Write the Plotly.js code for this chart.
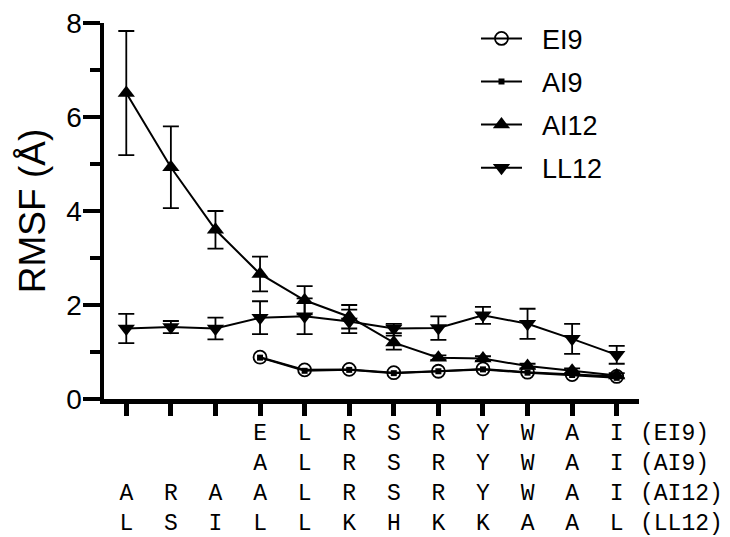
<!DOCTYPE html>
<html>
<head>
<meta charset="utf-8">
<script src="https://cdn.plot.ly/plotly-3.0.1.min.js"></script>
<style>html,body{margin:0;padding:0;background:#fff;}</style>
</head>
<body>
<div id="chart" style="width:730px;height:537px;"></div>
<script>
// Residue positions (x)
const positions = [1, 2, 3, 4, 5, 6, 7, 8, 9, 10, 11, 12];
const pos9 = [4, 5, 6, 7, 8, 9, 10, 11, 12];

// Sequence rows shown under the x axis
const seqEI9  = ['', '', '', 'E', 'L', 'R', 'S', 'R', 'Y', 'W', 'A', 'I'];
const seqAI9  = ['', '', '', 'A', 'L', 'R', 'S', 'R', 'Y', 'W', 'A', 'I'];
const seqAI12 = ['A', 'R', 'A', 'A', 'L', 'R', 'S', 'R', 'Y', 'W', 'A', 'I'];
const seqLL12 = ['L', 'S', 'I', 'L', 'L', 'K', 'H', 'K', 'K', 'A', 'A', 'L'];
const rowNames = ['(EI9)', '(AI9)', '(AI12)', '(LL12)'];

// Series names
const seriesNames = ['EI9', 'AI9', 'AI12', 'LL12'];

// RMSF values (Å)
const ei9  = [0.89, 0.62, 0.63, 0.56, 0.59, 0.64, 0.57, 0.52, 0.48];
const ai9  = [0.88, 0.60, 0.62, 0.55, 0.59, 0.63, 0.56, 0.51, 0.45];
const ai12 = [6.51, 4.93, 3.60, 2.66, 2.10, 1.75, 1.20, 0.88, 0.86, 0.70, 0.60, 0.50];
const ai12Err = [1.32, 0.87, 0.40, 0.37, 0.30, 0.25, 0.15, 0.05, 0.05, 0.05, 0.05, 0.05];
const ll12 = [1.50, 1.53, 1.50, 1.73, 1.76, 1.65, 1.50, 1.51, 1.78, 1.60, 1.28, 0.94];
const ll12Err = [0.31, 0.13, 0.23, 0.35, 0.38, 0.25, 0.10, 0.25, 0.18, 0.32, 0.32, 0.19];

const yTicks = [0, 2, 4, 6, 8];

const NB = '\u00a0';
const tickText = positions.map((p, i) =>
  [seqEI9[i], seqAI9[i], seqAI12[i], seqLL12[i]].map(s => s === '' ? NB : s).join('<br>')
);
const legendName = n => NB + NB + n;

const sans = 'Liberation Sans, Arial, Helvetica, sans-serif';
const mono = 'Courier New, Nimbus Mono PS, FreeMono, Liberation Mono, monospace';

const lineStyle = {color: '#000', width: 2};
const errStyle = {type: 'data', visible: true, color: '#000', thickness: 1.8, width: 8};

const traces = [
  {
    x: pos9, y: ei9, name: legendName(seriesNames[0]), type: 'scatter', mode: 'lines+markers',
    legendgroup: 'g1',
    line: lineStyle,
    marker: {symbol: 'circle-open', size: 13, color: '#000', line: {width: 1.8, color: '#000'}}
  },
  {
    x: pos9, y: ai9, name: legendName(seriesNames[1]), type: 'scatter', mode: 'lines+markers',
    legendgroup: 'g2',
    line: lineStyle,
    marker: {symbol: 'square', size: 6, color: '#000'}
  },
  {
    x: positions, y: ai12, name: legendName(seriesNames[2]), type: 'scatter', mode: 'lines+markers',
    legendgroup: 'g3',
    line: lineStyle,
    error_y: Object.assign({array: ai12Err}, errStyle),
    marker: {symbol: 'triangle-up', size: 15, color: '#000'}
  },
  {
    x: positions, y: ll12, name: legendName(seriesNames[3]), type: 'scatter', mode: 'lines+markers',
    legendgroup: 'g4',
    line: lineStyle,
    error_y: Object.assign({array: ll12Err}, errStyle),
    marker: {symbol: 'triangle-down', size: 15, color: '#000'}
  }
];

const layout = {
  width: 730, height: 537,
  margin: {l: 104, r: 91, t: 23, b: 138},
  paper_bgcolor: '#fff', plot_bgcolor: '#fff',
  font: {family: sans, color: '#000'},
  showlegend: true,
  legend: {
    x: 0.6953, y: 1.023, xanchor: 'left', yanchor: 'top',
    bgcolor: 'rgba(0,0,0,0)', borderwidth: 0,
    font: {family: sans, size: 27, color: '#000'},
    tracegroupgap: 5, itemwidth: 41
  },
  xaxis: {
    range: [0.5, 12.5],
    tickmode: 'array', tickvals: positions, ticktext: tickText,
    ticks: 'outside', ticklen: 12, tickwidth: 5, tickcolor: '#000',
    showline: true, linewidth: 4.5, linecolor: '#000',
    showgrid: false, zeroline: false,
    tickfont: {family: mono, size: 23, color: '#000'},
    ticklabelstandoff: -3,
    automargin: false
  },
  yaxis: {
    range: [0, 8],
    tickmode: 'array', tickvals: yTicks, ticktext: yTicks.map(String),
    ticks: 'outside', ticklen: 17, tickwidth: 4, tickcolor: '#000',
    minor: {tickmode: 'linear', tick0: 0, dtick: 1, ticks: 'outside', ticklen: 10, tickwidth: 4, tickcolor: '#000', showgrid: false},
    showline: true, linewidth: 4.5, linecolor: '#000',
    showgrid: false, zeroline: false,
    tickfont: {family: sans, size: 28, color: '#000'},
    ticklabelstandoff: -5,
    title: {text: 'RMSF (Å)', font: {family: sans, size: 37, color: '#000'}, standoff: 11},
    automargin: false
  },
  annotations: [{
    xref: 'x', yref: 'paper', x: 12.48, y: 0, xanchor: 'left', yanchor: 'top',
    yshift: -20, align: 'left', showarrow: false,
    text: rowNames.join('<br>'),
    font: {family: mono, size: 23, color: '#000'}
  }]
};

Plotly.newPlot('chart', traces, layout, {staticPlot: true, displayModeBar: false});
</script>
</body>
</html>
